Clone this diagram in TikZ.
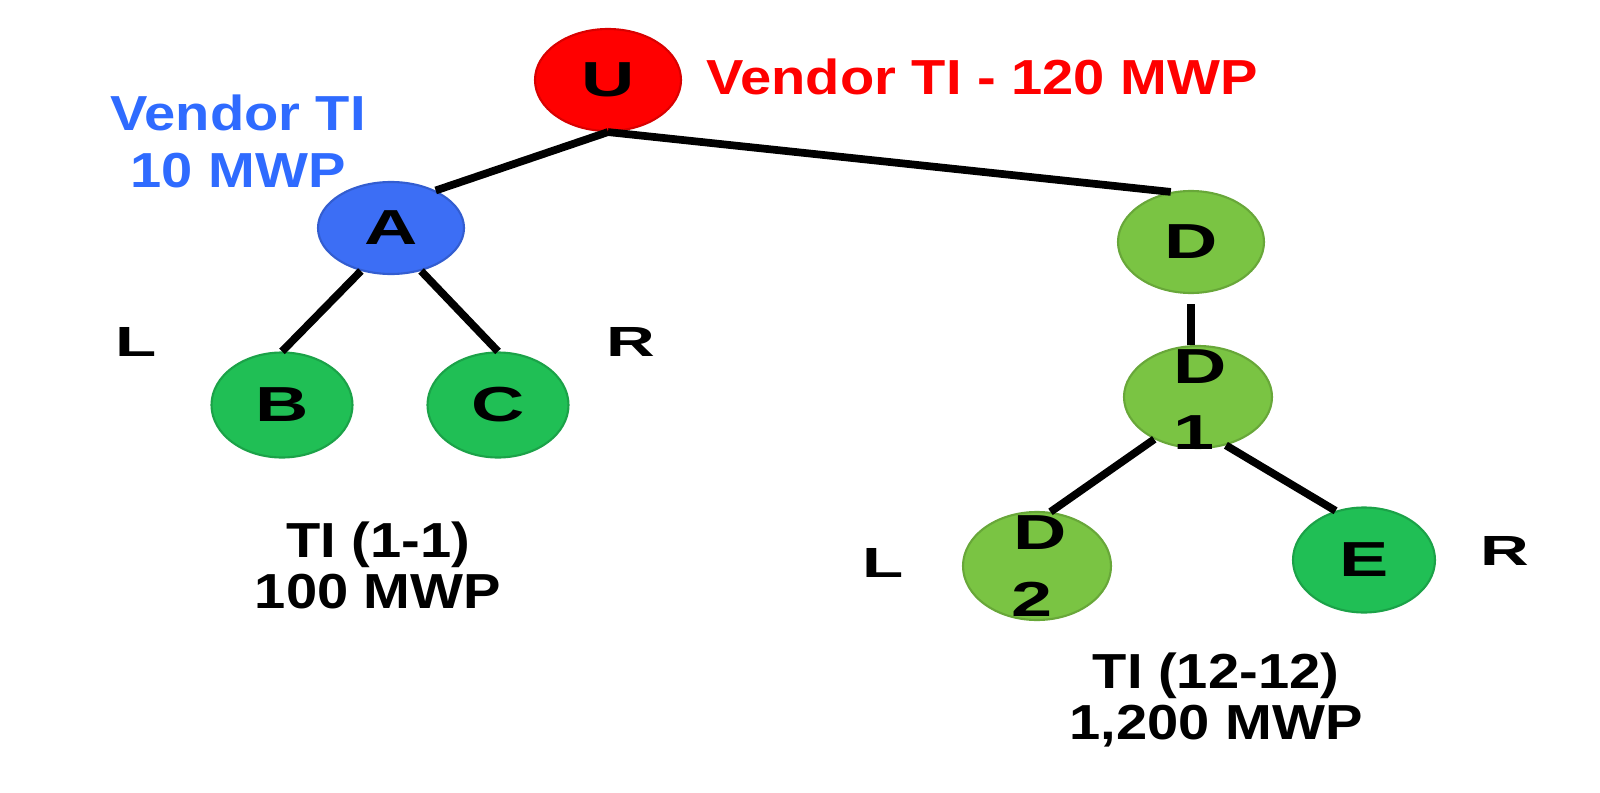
\documentclass[tikz,border=0pt]{standalone}
\usepackage{fontspec}
\setmainfont{Liberation Sans}
\newfontfamily\widesans{Liberation Sans}[FakeStretch=1.14]
\usetikzlibrary{shapes.geometric}

\definecolor{vred}{HTML}{FF0000}
\definecolor{vblue}{HTML}{3C6EF5}
\definecolor{vbluetext}{HTML}{2F6BFF}
\definecolor{vgreen}{HTML}{20BF55}
\definecolor{vlime}{HTML}{7AC443}
\newcommand{\widen}[1]{\scalebox{1.5}[1]{#1}}

\begin{document}
\begin{tikzpicture}[x=0.1mm, y=-0.1mm,
				vnode/.style={ellipse, minimum width=14.6mm, minimum height=10.2mm, inner sep=0pt, line width=0.6pt, font=\fontsize{14}{17}\selectfont\bfseries},
				letter/.style={inner sep=0pt, font=\fontsize{14}{17}\selectfont\bfseries},
				lrmark/.style={inner sep=0pt, font=\fontsize{12}{14}\selectfont\bfseries},
				infotext/.style={align=center, inner sep=0pt, font=\widesans\fontsize{14}{14.5}\selectfont\bfseries},
				treelink/.style={line width=2.2pt}
				]
				\useasboundingbox (0,0) rectangle (1600,793);
				% tree nodes
				\node[vnode, fill=vred, draw=vred!85!black] (U) at (608,80) {\widen{U}};
				\node[vnode, fill=vblue, draw=vblue!85!black, minimum height=9.2mm] (A) at (391,228) {\widen{A}};
				\node[vnode, fill=vgreen, draw=vgreen!85!black, minimum width=14.1mm, minimum height=10.5mm] (B) at (282,405) {\widen{B}};
				\node[vnode, fill=vgreen, draw=vgreen!85!black, minimum width=14.1mm, minimum height=10.5mm] (C) at (498,405) {\widen{C}};
				\node[vnode, fill=vlime, draw=vlime!85!black] (D) at (1191,242) {\widen{D}};
				\node[vnode, fill=vlime, draw=vlime!85!black, minimum width=14.8mm] (D1) at (1198,397) {};
				\node[letter] (D1top) at (1200,367) {\widen{D}};
				\node[letter] (D1bot) at (1194,433) {\widen{1}};
				\node[vnode, fill=vlime, draw=vlime!85!black, minimum width=14.8mm, minimum height=10.8mm] (D2) at (1037,566) {};
				\node[letter] (D2top) at (1040,533) {\widen{D}};
				\node[letter] (D2bot) at (1032,599) {\widen{2}};
				\node[vnode, fill=vgreen, draw=vgreen!85!black, minimum width=14.2mm, minimum height=10.5mm] (E) at (1364,560) {\widen{E}};
				% connectors
				\draw[treelink] (U.south) -- (A.40);
				\draw[treelink] (U.south) -- (D.112);
				\draw[treelink] (A.235) -- (B.north);
				\draw[treelink] (A.305) -- (C.north);
				\draw[treelink, shorten <=1mm] (D.south) -- (D.south |- D1.north);
				\draw[treelink] (D1.224) -- (D2.76);
				\draw[treelink] (D1.300) -- (E.120);
				% side marks
				\node[lrmark] (LA) at (136,342) {\scalebox{1.6}[1]{L}};
				\node[lrmark] (RA) at (631,342) {\scalebox{1.6}[1]{R}};
				\node[lrmark] (LD) at (883,563) {\scalebox{1.6}[1]{L}};
				\node[lrmark] (RD) at (1505,551) {\scalebox{1.6}[1]{R}};
				% texts
				\node[infotext, text=vred] (vendorU) at (982,77) {Vendor TI - 120 MWP};
				\node[infotext, text=vbluetext, font=\widesans\fontsize{14}{16.2}\selectfont\bfseries] (vendorA) at (238,141) {Vendor TI\\10 MWP};
				\node[infotext] (tiA) at (378,565) {TI (1-1)\\100 MWP};
				\node[infotext] (tiD) at (1216,700) {TI (12-12)\\1,200 MWP};
			\end{tikzpicture}
\end{document}
